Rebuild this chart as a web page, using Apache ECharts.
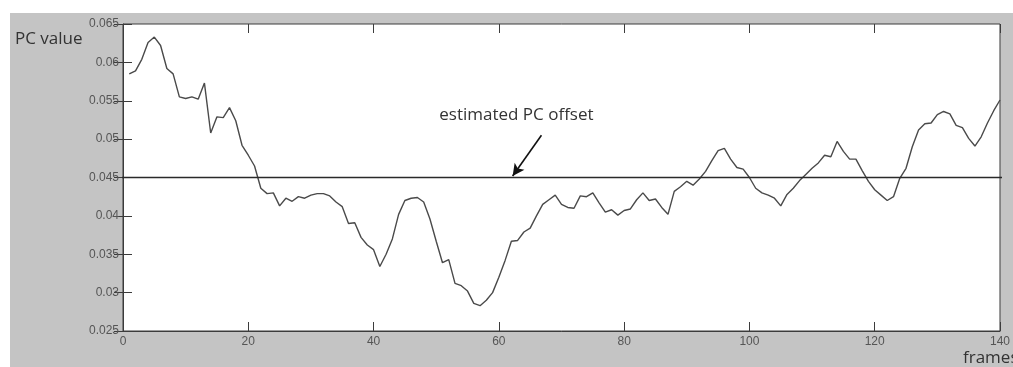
<!DOCTYPE html>
<html>
<head>
<meta charset="utf-8">
<script src="https://cdn.jsdelivr.net/npm/echarts@6/dist/echarts.min.js"></script>
<style>
  html, body { margin: 0; padding: 0; background: #fff; }
  #wrap { position: relative; width: 1013px; height: 367px; overflow: hidden; }
  #bg { position: absolute; left: 10px; top: 13px; right: 0; bottom: 0; background: #c4c4c4; }
  #chart { position: absolute; left: 0; top: 0; width: 1013px; height: 367px; }
</style>
</head>
<body>
<div id="wrap">
  <div id="bg"></div>
  <div id="chart"></div>
</div>
<script>
// PC value per frame (frames 1..140)
var pcValues = [
  0.0585, 0.0589, 0.0604, 0.0626, 0.0633, 0.0622, 0.0592, 0.0585, 0.0555, 0.0553,
  0.0555, 0.0552, 0.0573, 0.0508, 0.0529, 0.0528, 0.0541, 0.0524, 0.0492, 0.0479,
  0.0465, 0.0436, 0.0429, 0.0430, 0.0413, 0.0423, 0.0419, 0.0425, 0.0423, 0.0427,
  0.0429, 0.0429, 0.0426, 0.0418, 0.0412, 0.0390, 0.0391, 0.0372, 0.0362, 0.0356,
  0.0334, 0.0350, 0.0370, 0.0402, 0.0420, 0.0423, 0.0424, 0.0418, 0.0396, 0.0367,
  0.0339, 0.0343, 0.0312, 0.0309, 0.0302, 0.0286, 0.0283, 0.0290, 0.0300, 0.0320,
  0.0342, 0.0367, 0.0368, 0.0379, 0.0384, 0.0400, 0.0415, 0.0421, 0.0427, 0.0415,
  0.0411, 0.0410, 0.0426, 0.0425, 0.0430, 0.0417, 0.0405, 0.0408, 0.0401, 0.0407,
  0.0409, 0.0421, 0.0430, 0.0420, 0.0422, 0.0411, 0.0402, 0.0432, 0.0438, 0.0445,
  0.0440, 0.0448, 0.0458, 0.0472, 0.0485, 0.0488, 0.0474, 0.0463, 0.0461, 0.0450,
  0.0436, 0.0430, 0.0427, 0.0423, 0.0413, 0.0428, 0.0436, 0.0446, 0.0454, 0.0462,
  0.0469, 0.0479, 0.0477, 0.0497, 0.0484, 0.0474, 0.0474, 0.0459, 0.0445, 0.0434,
  0.0427, 0.0420, 0.0425, 0.0449, 0.0462, 0.0490, 0.0512, 0.0520, 0.0521, 0.0532,
  0.0536, 0.0533, 0.0518, 0.0515, 0.0501, 0.0491, 0.0503, 0.0521, 0.0537, 0.0551
];
var frames = pcValues.map(function (v, i) { return i + 1; });
var xTicks = [0, 20, 40, 60, 80, 100, 120, 140];
var yTicks = [0.025, 0.03, 0.035, 0.04, 0.045, 0.05, 0.055, 0.06, 0.065];
var pcOffset = 0.045;
var offsetSpan = [-0.8, 141];          // offset line runs a little past the box
var arrowFrom = [66.8, 0.0505];
var arrowTo = [62.2, 0.0452];
var notePos = [62.8, 0.0531];

var axisColor = '#3c3c3c';
var labelStyle = { color: '#555', fontSize: 12, fontFamily: 'Liberation Sans, Arial, sans-serif' };

var chart = echarts.init(document.getElementById('chart'), null, { renderer: 'canvas' });

function fmt(v) { return String(+v.toFixed(3)); }

var tickStyle = { show: true, inside: true, length: 9, lineStyle: { color: axisColor, width: 1 } };

chart.setOption({
  backgroundColor: 'transparent',
  animation: false,
  grid: {
    left: 123, top: 24, width: 878, height: 307,
    show: true, backgroundColor: '#fff', borderColor: axisColor, borderWidth: 1
  },
  xAxis: [{
    type: 'value', min: xTicks[0], max: xTicks[xTicks.length - 1], interval: 20,
    axisLine: { show: true, onZero: false, lineStyle: { color: axisColor } },
    axisTick: tickStyle, splitLine: { show: false },
    axisLabel: Object.assign({ margin: 5 }, labelStyle)
  }, {
    type: 'value', position: 'top', min: 0, max: 140, interval: 20,
    axisLine: { show: false }, axisTick: tickStyle,
    axisLabel: { show: false }, splitLine: { show: false }
  }],
  yAxis: [{
    type: 'value', min: yTicks[0], max: yTicks[yTicks.length - 1], interval: 0.005,
    axisLine: { show: true, onZero: false, lineStyle: { color: axisColor } },
    axisTick: tickStyle, splitLine: { show: false },
    axisLabel: Object.assign({ margin: 4, formatter: fmt }, labelStyle)
  }, {
    type: 'value', position: 'right', min: 0.025, max: 0.065, interval: 0.005,
    axisLine: { show: false }, axisTick: tickStyle,
    axisLabel: { show: false }, splitLine: { show: false }
  }],
  series: [{
    type: 'line',
    data: frames.map(function (f, i) { return [f, pcValues[i]]; }),
    symbol: 'none',
    lineStyle: { color: '#4a4a4a', width: 1.4 },
    z: 3
  }, {
    type: 'line',
    data: offsetSpan.map(function (x) { return [x, pcOffset]; }),
    symbol: 'none', clip: false,
    lineStyle: { color: '#2a2a2a', width: 1.6 },
    z: 4,
    markLine: {
      silent: true, animation: false,
      symbol: ['none', 'arrow'], symbolSize: [9, 12],
      lineStyle: { color: '#111', width: 1.6, type: 'solid' },
      label: { show: false },
      data: [[{ coord: arrowFrom }, { coord: arrowTo }]]
    },
    markPoint: {
      silent: true, symbol: 'circle', symbolSize: 0,
      label: {
        show: true, position: 'inside', formatter: 'estimated PC offset',
        color: '#333', fontSize: 17, fontFamily: 'Open Sans, sans-serif'
      },
      data: [{ coord: notePos }]
    }
  }],
  graphic: [{
    type: 'text', left: 15, top: 31,
    style: { text: 'PC value', fill: '#333', font: '17px "Open Sans", sans-serif' }
  }, {
    type: 'text', left: 963, top: 350,
    style: { text: 'frames', fill: '#333', font: '17px "Open Sans", sans-serif' }
  }]
});
</script>
</body>
</html>
